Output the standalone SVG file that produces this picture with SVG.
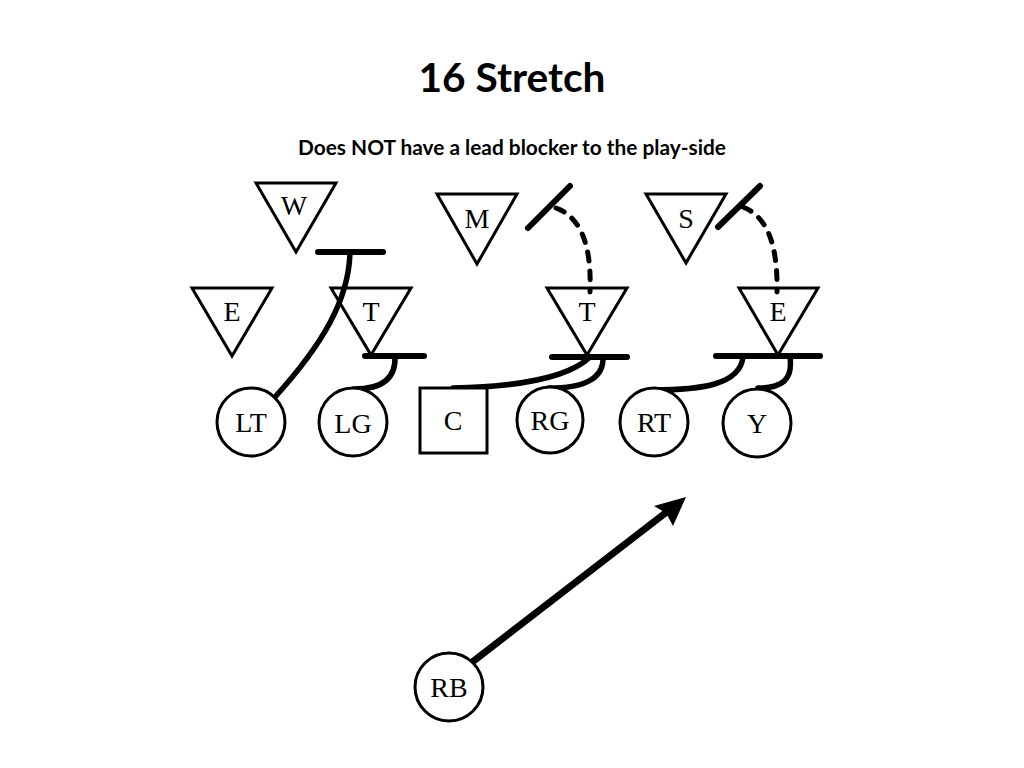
<svg xmlns="http://www.w3.org/2000/svg" width="1024" height="768" viewBox="0 0 1024 768">
<defs>
<style>
.shape{fill:#fff;stroke:#000;stroke-width:3}
.lbl{font-family:"Liberation Serif",serif;font-size:28px;fill:#000;text-anchor:middle}
.blk{fill:none;stroke:#000;stroke-width:5.5;stroke-linecap:round}
.bar{fill:none;stroke:#000;stroke-width:6;stroke-linecap:round}
.dash{fill:none;stroke:#000;stroke-width:5;stroke-linecap:round;stroke-dasharray:9 10}
</style>
</defs>
<rect width="1024" height="768" fill="#fff"/>
<text x="512" y="92" font-family="Lato,sans-serif" font-weight="bold" font-size="40" text-anchor="middle" textLength="187" lengthAdjust="spacingAndGlyphs">16 Stretch</text>
<text x="512" y="155" font-family="Lato,sans-serif" font-weight="bold" font-size="20" text-anchor="middle" textLength="428" lengthAdjust="spacingAndGlyphs">Does NOT have a lead blocker to the play-side</text>

<g id="defense-W"><polygon class="shape" points="256,183 336,183 296,252"/><text class="lbl" x="294" y="215">W</text></g>
<g id="defense-E-left"><polygon class="shape" points="192,288 272,288 232,356"/><text class="lbl" x="232" y="321">E</text></g>
<g id="defense-T-left"><polygon class="shape" points="331,288 411,288 371,355"/><text class="lbl" x="371" y="321">T</text></g>
<g id="defense-M"><polygon class="shape" points="437,194 517,194 477,264"/><text class="lbl" x="477" y="228">M</text></g>
<g id="defense-S"><polygon class="shape" points="646,194 726,194 686,263"/><text class="lbl" x="686" y="228">S</text></g>
<g id="defense-T-right"><polygon class="shape" points="547,288 627,288 587,355"/><text class="lbl" x="587" y="321">T</text></g>
<g id="defense-E-right"><polygon class="shape" points="739,288 818,288 778,355"/><text class="lbl" x="778" y="321">E</text></g>

<g id="connectors">
<line class="bar" x1="318" y1="252" x2="383" y2="252"/>
<path class="blk" d="M350,252 C349,300 322,345 275,397"/>
<line class="bar" x1="365" y1="356" x2="424" y2="356"/>
<path class="blk" d="M395,356 C396,378 383,389 354,389"/>
<line class="bar" x1="552" y1="357" x2="627" y2="357"/>
<path class="blk" d="M453,388 C515,387 568,378 590,357"/>
<path class="blk" d="M603,357 C604,380 582,388 549,388"/>
<line class="bar" x1="528" y1="228" x2="570" y2="186"/>
<path class="dash" d="M556,208 C578,216 592,240 590,292"/>
<line class="bar" x1="716" y1="356" x2="820" y2="356"/>
<path class="blk" d="M743,357 C740,385 700,390 653,390"/>
<path class="blk" d="M790,357 C793,380 782,388 758,388"/>
<line class="bar" x1="718" y1="227" x2="760" y2="186"/>
<path class="dash" d="M743,207 C765,216 778,240 777,292"/>
<line x1="471" y1="663" x2="668" y2="511" stroke="#000" stroke-width="7" stroke-linecap="round"/>
<polygon points="686,497 673,526 666,513 654,506" fill="#000"/>
</g>

<g id="LT"><circle class="shape" cx="251" cy="422" r="34"/><text class="lbl" x="251" y="432">LT</text></g>
<g id="LG"><circle class="shape" cx="353" cy="422" r="34"/><text class="lbl" x="353" y="433">LG</text></g>
<g id="C"><rect class="shape" x="420" y="388" width="67" height="65"/><text class="lbl" x="453" y="430">C</text></g>
<g id="RG"><circle class="shape" cx="550" cy="420" r="33"/><text class="lbl" x="550" y="430">RG</text></g>
<g id="RT"><circle class="shape" cx="654" cy="422" r="34"/><text class="lbl" x="654" y="432">RT</text></g>
<g id="Y"><circle class="shape" cx="757" cy="423" r="34"/><text class="lbl" x="757" y="433">Y</text></g>
<g id="RB"><circle class="shape" cx="449" cy="687" r="34"/><text class="lbl" x="449" y="697">RB</text></g>
</svg>
